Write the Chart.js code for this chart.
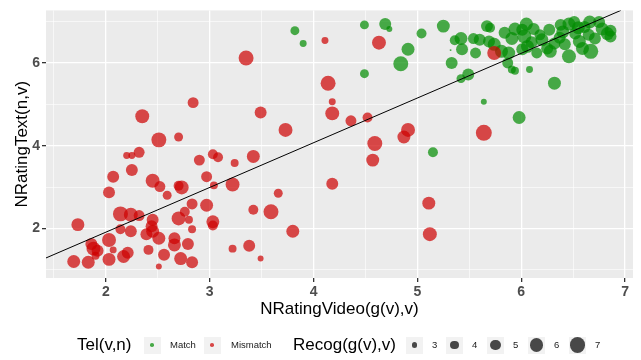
<!DOCTYPE html>
<html>
<head>
<meta charset="utf-8">
<script src="https://cdn.jsdelivr.net/npm/chart.js@4.4.1/dist/chart.umd.min.js"></script>
<style>
body{margin:0;background:#fff;}
#wrap{position:relative;width:641px;height:360px;font-family:"Liberation Sans",Arial,sans-serif;}
.lg{position:absolute;white-space:nowrap;line-height:1;}
.key{position:absolute;width:17px;height:17px;background:#F2F2F2;}
.dot{position:absolute;border-radius:50%;}
</style>
</head>
<body>
<div id="wrap">
<canvas id="c" width="641" height="360"></canvas>
<div id="legend"></div>
</div>
<script>

// Tel(v,n) = Match
const matchX=[3.82,3.90,4.49,4.69,4.73,5.04,5.25,4.91,4.84,4.49,5.15,5.42,5.43,5.33,5.56,5.49,5.42,5.64,5.98,6.08,5.91,5.94,5.87,6.32,5.32,5.67,5.70,5.54,5.60,5.69,5.74,5.84,5.81,5.88,5.91,5.94,6.01,6.05,6.03,6.06,6.15,6.12,6.18,6.20,6.27,6.28,6.25,6.32,6.38,6.37,6.46,6.42,6.46,6.51,6.52,6.56,6.59,6.61,6.66,6.65,6.67,6.71,6.75,6.78,6.83,6.86,6.86,6.01,5.36,6.40,6.55,6.10]
const matchY=[6.78,6.47,6.92,6.94,6.82,6.71,6.89,6.33,5.98,5.74,3.84,6.59,6.33,6.00,6.24,5.72,5.62,5.06,4.68,5.84,5.84,5.81,6.00,5.51,6.31,6.89,6.85,6.59,6.56,6.52,6.45,6.73,6.28,6.24,6.59,6.82,6.80,6.94,6.64,6.40,6.24,6.82,6.68,6.56,6.80,6.28,6.35,6.47,6.92,6.61,6.94,6.45,6.16,6.99,6.71,6.52,6.35,6.87,6.99,6.68,6.28,6.59,6.99,6.82,6.71,6.78,6.64,6.33,6.55,6.75,6.85,6.50]
const matchRecog=[4.3,3.5,4.3,5.5,3.1,4.7,5.9,5.9,6.7,4.3,4.7,5.9,5.5,5.5,5.1,5.5,4.3,3.1,5.9,3.5,3.9,3.9,5.1,5.9,1.5,5.5,4.7,5.1,5.5,5.5,5.9,5.5,5.9,5.9,5.9,5.9,5.5,5.9,6.3,5.9,5.1,5.5,5.1,5.9,5.5,5.9,5.5,5.5,5.5,5.5,5.9,5.5,6.3,5.5,5.5,5.9,5.9,5.5,5.9,5.5,6.7,5.5,5.5,5.9,5.9,5.5,5.5,5.5,4.7,5.9,5.9,5.5]

// Tel(v,n) = Mismatch
const mismatchX=[3.35,2.84,2.35,3.49,2.51,2.70,2.20,2.25,2.32,2.90,3.03,3.08,3.24,3.42,2.07,2.25,2.03,2.45,2.52,2.59,2.70,2.73,2.97,3.04,3.22,2.83,2.97,3.42,1.73,2.14,2.24,2.32,2.45,2.70,2.76,2.80,2.83,3.03,3.03,2.14,2.24,2.39,2.44,2.45,2.51,2.66,2.66,2.79,2.03,1.86,1.88,1.92,2.07,1.90,2.21,2.17,2.41,2.56,2.72,2.83,2.51,1.69,1.83,2.03,3.22,3.38,3.49,3.73,3.66,3.59,3.80,4.14,4.18,4.18,4.36,4.52,4.11,4.63,4.91,4.87,4.59,4.57,4.18,5.11,5.12,5.74,5.64]
const mismatchY=[6.12,5.04,4.71,4.80,4.14,4.21,3.76,3.76,3.84,3.65,3.79,3.72,3.58,3.74,3.25,3.41,2.87,3.15,3.01,2.80,3.03,2.99,3.25,3.04,3.06,2.59,2.56,2.45,2.09,2.35,2.33,2.31,2.21,2.24,2.40,2.21,1.98,2.16,2.07,1.98,1.93,1.86,2.05,1.93,1.76,1.76,1.60,1.62,1.72,1.62,1.51,1.46,1.48,1.34,1.41,1.32,1.48,1.36,1.27,1.18,1.08,1.20,1.18,1.25,1.51,1.58,1.27,4.38,2.85,2.40,1.93,5.51,5.06,4.78,4.60,4.68,6.54,6.49,4.38,4.21,4.05,3.65,3.08,2.61,1.86,6.24,4.31]
const mismatchRecog=[6.7,5.1,6.3,5.5,6.7,4.3,3.5,3.5,5.1,5.1,4.7,4.7,3.9,5.9,5.5,5.5,5.5,6.3,5.1,4.3,4.7,6.3,5.1,3.9,6.3,5.1,5.9,4.7,5.9,6.7,6.3,5.1,5.5,6.3,4.7,3.9,3.9,5.9,4.7,4.7,5.5,5.5,5.5,5.9,5.9,5.5,5.9,5.5,6.3,5.5,6.3,5.5,3.5,3.9,5.5,5.9,4.7,5.5,5.9,5.5,3.1,5.9,5.9,5.9,3.9,5.5,3.1,6.3,4.3,6.7,5.9,6.7,3.5,6.3,5.1,4.7,3.5,6.3,6.3,5.9,6.7,5.9,5.5,5.9,6.3,6.3,7.1]

// fitted line, read at both ends
const fitX=[1.40,6.96]
const fitY=[1.26,7.27]

const xGrid=[1.5,2,2.5,3,3.5,4,4.5,5,5.5,6,6.5,7]
const yGrid=[1,2,3,4,5,6,7]
const xLabels=[2,3,4,5,6,7]
const yLabels=[2,4,6]
const sizeBreaks=[3,4,5,6,7]

const red='rgba(205,0,0,0.7)'
const green='rgba(0,139,0,0.7)'

function size(v){ return 1.25*v-0.9 }

function pts(xs,ys,rs){
  return xs.map((x,i)=>({x:x,y:ys[i],r:size(rs[i])}))
}

const panelBg={
  id:'panelBg',
  beforeDraw(chart){
    const {ctx,chartArea:a}=chart
    ctx.save()
    ctx.fillStyle='#fff'
    ctx.fillRect(0,0,chart.width,chart.height)
    ctx.fillStyle='#EBEBEB'
    ctx.fillRect(a.left,a.top,a.right-a.left,a.bottom-a.top)
    ctx.restore()
  }
}

const tickFont={family:'Liberation Sans',size:14,weight:'bold'}
const titleFont={family:'Liberation Sans',size:17}

new Chart(document.getElementById('c'),{
  type:'bubble',
  data:{
    datasets:[
      {type:'scatter',data:fitX.map((x,i)=>({x:x,y:fitY[i]})),showLine:true,borderColor:'#000',borderWidth:1,pointRadius:0,order:0},
      {label:'Mismatch',data:pts(mismatchX,mismatchY,mismatchRecog),backgroundColor:red,borderWidth:0,order:1},
      {label:'Match',data:pts(matchX,matchY,matchRecog),backgroundColor:green,borderWidth:0,order:2}
    ]
  },
  options:{
    responsive:false,
    animation:false,
    events:[],
    layout:{padding:{top:3,right:7,bottom:40,left:0}},
    plugins:{legend:{display:false},tooltip:{enabled:false}},
    scales:{
      x:{
        type:'linear',min:1.423,max:7.077,
        afterBuildTicks(s){ s.ticks=xGrid.map(v=>({value:v})) },
        afterFit(s){ s.height=42 },
        ticks:{
          padding:2,color:'#4D4D4D',font:tickFont,maxRotation:0,autoSkip:false,
          callback:v=>xLabels.includes(v)?String(v):''
        },
        grid:{
          color:'#fff',tickLength:4,
          lineWidth:c=>xLabels.includes(c.tick&&c.tick.value)?1.3:0.6,
          tickColor:c=>xLabels.includes(c.tick&&c.tick.value)?'#333':'rgba(0,0,0,0)'
        },
        border:{display:false},
        title:{display:true,text:'NRatingVideo(g(v),v)',color:'#000',font:titleFont,padding:{top:0,bottom:0}}
      },
      y:{
        type:'linear',min:0.8,max:7.27,
        afterBuildTicks(s){ s.ticks=yGrid.map(v=>({value:v})) },
        afterFit(s){ s.width=46 },
        ticks:{
          padding:2,color:'#4D4D4D',font:tickFont,autoSkip:false,
          callback:v=>yLabels.includes(v)?String(v):''
        },
        grid:{
          color:'#fff',tickLength:4,
          lineWidth:c=>yLabels.includes(c.tick&&c.tick.value)?1.3:0.6,
          tickColor:c=>yLabels.includes(c.tick&&c.tick.value)?'#333':'rgba(0,0,0,0)'
        },
        border:{display:false},
        title:{display:true,text:'NRatingText(n,v)',color:'#000',font:titleFont,padding:{top:12,bottom:12}}
      }
    }
  },
  plugins:[panelBg]
})

// legend below the plot
const lg=document.getElementById('legend')
const cy=345

function text(s,left,fs){
  const d=document.createElement('div')
  d.className='lg'
  d.textContent=s
  d.style.left=left+'px'
  d.style.top=(cy-fs*0.55)+'px'
  d.style.fontSize=fs+'px'
  d.style.color=fs>12?'#000':'#1a1a1a'
  lg.appendChild(d)
}
function key(left,r,col){
  const k=document.createElement('div')
  k.className='key'
  k.style.left=left+'px'
  k.style.top=(cy-8.5)+'px'
  const d=document.createElement('div')
  d.className='dot'
  d.style.width=d.style.height=(2*r)+'px'
  d.style.left=(8.5-r)+'px'
  d.style.top=(8.5-r)+'px'
  d.style.background=col
  k.appendChild(d)
  lg.appendChild(k)
}

text('Tel(v,n)',77,17)
key(143.5,1.8,green)
text('Match',170,9.5)
key(203.5,1.8,red)
text('Mismatch',231,9.5)
text('Recog(g(v),v)',293,17)
const sizeLeft=[406,446,487,528,569]
sizeBreaks.forEach((b,i)=>{
  key(sizeLeft[i],size(b),'rgba(0,0,0,0.7)')
  text(String(b),sizeLeft[i]+26,9.5)
})

</script>
</body>
</html>
